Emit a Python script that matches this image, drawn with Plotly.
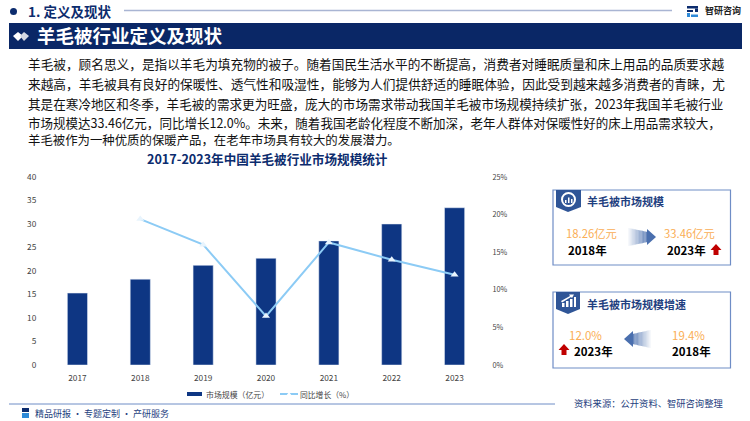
import plotly.graph_objects as go

WIDTH = 750
HEIGHT = 421
FONT = "Noto Sans CJK SC"
NAVY = "#0C2C6E"
BAR_BLUE = "#0E3683"
LINE_BLUE = "#8CCBF5"
ORANGE = "#FAAE55"
BOX_BLUE = "#6F8DC6"
RED = "#C00000"

years = ["2017", "2018", "2019", "2020", "2021", "2022", "2023"]
market_size = [15.3, 18.26, 21.2, 22.7, 26.4, 30.0, 33.46]
growth = [None, 19.4, 16.0, 6.5, 16.3, 14.0, 12.0]
left_ticks = [0, 5, 10, 15, 20, 25, 30, 35, 40]
right_ticks = [0, 5, 10, 15, 20, 25]
right_labels = ["0%", "5%", "10%", "15%", "20%", "25%"]

paragraph = [
    "羊毛被，顾名思义，是指以羊毛为填充物的被子。随着国民生活水平的不断提高，消费者对睡眠质量和床上用品的品质要求越",
    "来越高，羊毛被具有良好的保暖性、透气性和吸湿性，能够为人们提供舒适的睡眠体验，因此受到越来越多消费者的青睐，尤",
    "其是在寒冷地区和冬季，羊毛被的需求更为旺盛，庞大的市场需求带动我国羊毛被市场规模持续扩张，2023年我国羊毛被行业",
    "市场规模达33.46亿元，同比增长12.0%。未来，随着我国老龄化程度不断加深，老年人群体对保暖性好的床上用品需求较大，",
    "羊毛被作为一种优质的保暖产品，在老年市场具有较大的发展潜力。",
]
paragraph_y = [63, 83, 103, 122.5, 140]
# the original text is justified, so each line gets its own size to reach the right edge
paragraph_size = [12.67, 12.68, 12.6, 12.52, 12.4]


def px_x(x):
    return x / WIDTH


def px_y(y):
    return 1 - y / HEIGHT


def rect(x0, y0, x1, y1, fill=None, line=None, width=1, layer="below"):
    return dict(type="rect", xref="paper", yref="paper",
                x0=px_x(x0), x1=px_x(x1), y0=px_y(y0), y1=px_y(y1),
                fillcolor=fill or "rgba(0,0,0,0)",
                line=dict(color=line, width=width) if line else dict(width=0),
                layer=layer)


def poly(points, fill):
    # points come in as page pixels, paths on paper refs are written in 0-1
    path = "M " + " L ".join(f"{px_x(x)} {px_y(y)}" for x, y in points) + " Z"
    return dict(type="path", xref="paper", yref="paper", path=path,
                fillcolor=fill, line=dict(width=0), layer="above")


def hline(x0, x1, y, color, width=1):
    return dict(type="line", xref="paper", yref="paper",
                x0=px_x(x0), x1=px_x(x1), y0=px_y(y), y1=px_y(y),
                line=dict(color=color, width=width))


def label(x, y, text, size, color="#000000", anchor="left", bold=False):
    if bold:
        text = f"<b>{text}</b>"
    return dict(xref="paper", yref="paper", x=px_x(x), y=px_y(y), text=text,
                showarrow=False, xanchor=anchor, yanchor="middle",
                font=dict(family=FONT, size=size, color=color))


def fade_arrow(x_start, x_end, y, pointing_right=True):
    # gradient arrow, the tail fades out away from the head
    out = []
    steps = 14
    head = 9 if pointing_right else -9
    tail_end = x_end - head
    for i in range(steps):
        a = x_start + (tail_end - x_start) * i / steps
        b = x_start + (tail_end - x_start) * (i + 1) / steps
        half = 9 - 4 * (i / steps)
        out.append(dict(type="rect", xref="paper", yref="paper",
                        x0=px_x(a), x1=px_x(b), y0=px_y(y - half), y1=px_y(y + half),
                        fillcolor="#4A6FAE", opacity=0.05 + 0.85 * i / steps,
                        line=dict(width=0)))
    out.append(poly([(tail_end, y - 8), (x_end, y), (tail_end, y + 8)], "#4A6FAE"))
    return out


def red_arrow(x, y):
    return poly([(x, y - 6), (x + 5.5, y), (x + 2.5, y), (x + 2.5, y + 5),
                 (x - 2.5, y + 5), (x - 2.5, y), (x - 5.5, y)], RED)


fig = go.Figure()
fig.add_trace(go.Bar(x=years, y=market_size, name="市场规模（亿元）",
                     marker=dict(color=BAR_BLUE), width=0.32, showlegend=False))
fig.add_trace(go.Scatter(x=years, y=growth, name="同比增长（%）", yaxis="y2",
                         mode="lines+markers", showlegend=False,
                         line=dict(color=LINE_BLUE, width=2),
                         marker=dict(symbol="triangle-up", size=7, color="#E8F4FD")))

shapes = [
    # header
    dict(type="circle", xref="paper", yref="paper",
         x0=px_x(10), x1=px_x(17), y0=px_y(15), y1=px_y(8),
         fillcolor=NAVY, line=dict(width=0)),
    hline(124, 672, 10.5, "#A9B5D3", 1.5),
    rect(9, 23, 742, 49, fill="#0A2766"),
    poly([(13, 36), (18, 32), (23, 36), (18, 41)], "#FFFFFF"),
    poly([(20, 36), (24, 32), (29, 36), (24, 41)], "#D5D9E4"),
    # logo
    rect(687, 6, 698, 8.5, fill="#0C2C6E"),
    rect(695, 8.5, 698, 12, fill="#0C2C6E"),
    rect(687, 10, 693, 12, fill="#0C2C6E"),
    rect(687, 13, 690, 17, fill="#2E8AD8"),
    rect(691, 14.5, 698, 17, fill="#2E8AD8"),
    # right hand boxes
    rect(553, 190, 730.5, 265, fill="#FFFFFF", line=BOX_BLUE, width=1.2),
    rect(553, 292, 730.5, 368, fill="#FFFFFF", line=BOX_BLUE, width=1.2),
    poly([(556, 190), (581, 190), (581, 207), (568, 212), (556, 207)], "#2F5597"),
    poly([(556, 292), (580, 292), (580, 309), (568, 314), (556, 309)], "#2F5597"),
    # donut icon with small bars
    dict(type="circle", xref="paper", yref="paper",
         x0=px_x(562), x1=px_x(575), y0=px_y(206), y1=px_y(193),
         line=dict(color="#FFFFFF", width=2)),
    poly([(565, 203), (566.5, 203), (566.5, 200), (565, 200)], "#FFFFFF"),
    poly([(568, 203), (569.5, 203), (569.5, 197.5), (568, 197.5)], "#FFFFFF"),
    poly([(571, 203), (572.5, 203), (572.5, 199), (571, 199)], "#FFFFFF"),
    # growth icon, rising bars and an arrow
    poly([(562, 307), (564.5, 307), (564.5, 303), (562, 303)], "#FFFFFF"),
    poly([(566, 307), (568.5, 307), (568.5, 301), (566, 301)], "#FFFFFF"),
    poly([(570, 307), (572.5, 307), (572.5, 299), (570, 299)], "#FFFFFF"),
    poly([(574, 307), (576, 307), (576, 297), (574, 297)], "#FFFFFF"),
    poly([(561, 301), (570, 296), (569, 294.5), (574, 294.5), (572, 298), (571, 297), (562, 302.5)], "#FFFFFF"),
    red_arrow(716, 250),
    red_arrow(564, 350),
    # legend
    rect(187, 392, 202, 396, fill=BAR_BLUE),
    hline(280, 298, 394, LINE_BLUE, 2),
    poly([(289, 392), (292, 396), (286, 396)], "#FFFFFF"),
    # footer
    hline(9, 555, 404, "#6F8DC6", 1),
    rect(22, 408, 29, 412, fill="#0C2C6E"),
    rect(22, 413, 29, 418, fill="#2E8AD8"),
]
shapes += fade_arrow(628, 656, 237, True)
shapes += fade_arrow(651, 624, 339, False)

annotations = [
    label(26, 11.5, "1. 定义及现状", 13.5, NAVY, bold=True),
    label(35, 35, "羊毛被行业定义及现状", 18.5, "#FFFFFF", bold=True),
    label(703, 10.5, "智研咨询", 9, "#222222", bold=True),
    label(267, 158.5, "2017-2023年中国羊毛被行业市场规模统计", 12.6, NAVY, "center", True),
    label(585, 201.5, "羊毛被市场规模", 11, "#1F3F80", bold=True),
    label(584.5, 303.5, "羊毛被市场规模增速", 11, "#1F3F80", bold=True),
    label(591, 233, "18.26亿元", 11.3, ORANGE, "center"),
    label(587, 249.5, "2018年", 11.5, "#000000", "center", True),
    label(689, 233, "33.46亿元", 11.3, ORANGE, "center"),
    label(686, 249.5, "2023年", 11.5, "#000000", "center", True),
    label(585, 335, "12.0%", 11.5, ORANGE, "center"),
    label(593, 351, "2023年", 11.5, "#000000", "center", True),
    label(688, 335, "19.4%", 11.5, ORANGE, "center"),
    label(691, 351, "2018年", 11.5, "#000000", "center", True),
    label(725, 402.5, "资料来源：公开资料、智研咨询整理", 9.3, "#1F3F80", "right"),
    label(33, 413.5, "精品研报 · 专题定制 · 产研服务", 9, "#1F3F80"),
    label(204, 394, "市场规模（亿元）", 7.9, "#444444"),
    label(298, 394, "同比增长（%）", 7.8, "#444444"),
]
for text, y, size in zip(paragraph, paragraph_y, paragraph_size):
    annotations.append(label(26, y, text, size, "#111111"))

fig.update_layout(
    width=WIDTH, height=HEIGHT, autosize=False,
    margin=dict(l=0, r=0, t=0, b=0, autoexpand=False),
    paper_bgcolor="#FFFFFF", plot_bgcolor="rgba(0,0,0,0)",
    font=dict(family=FONT, size=8, color="#444444"),
    xaxis=dict(domain=[px_x(46), px_x(486)], showgrid=False, showline=False,
               ticks="outside", ticklen=5, tickcolor="rgba(0,0,0,0)",
               tickfont=dict(size=8.3), anchor="free", position=px_y(365)),
    yaxis=dict(domain=[px_y(365), px_y(177)], range=[0, 40], tickvals=left_ticks,
               showgrid=False, showline=False, zeroline=False,
               ticks="outside", ticklen=7, tickcolor="rgba(0,0,0,0)",
               tickfont=dict(size=8.3)),
    yaxis2=dict(domain=[px_y(365), px_y(177)], range=[0, 25], overlaying="y", side="right",
                tickvals=right_ticks, ticktext=right_labels, showgrid=False,
                showline=False, zeroline=False,
                ticks="outside", ticklen=4, tickcolor="rgba(0,0,0,0)",
                tickfont=dict(size=7.3)),
    shapes=shapes, annotations=annotations,
)

fig.write_html("out.html", config={"displayModeBar": False},
               post_script="document.body.style.margin='0';")
